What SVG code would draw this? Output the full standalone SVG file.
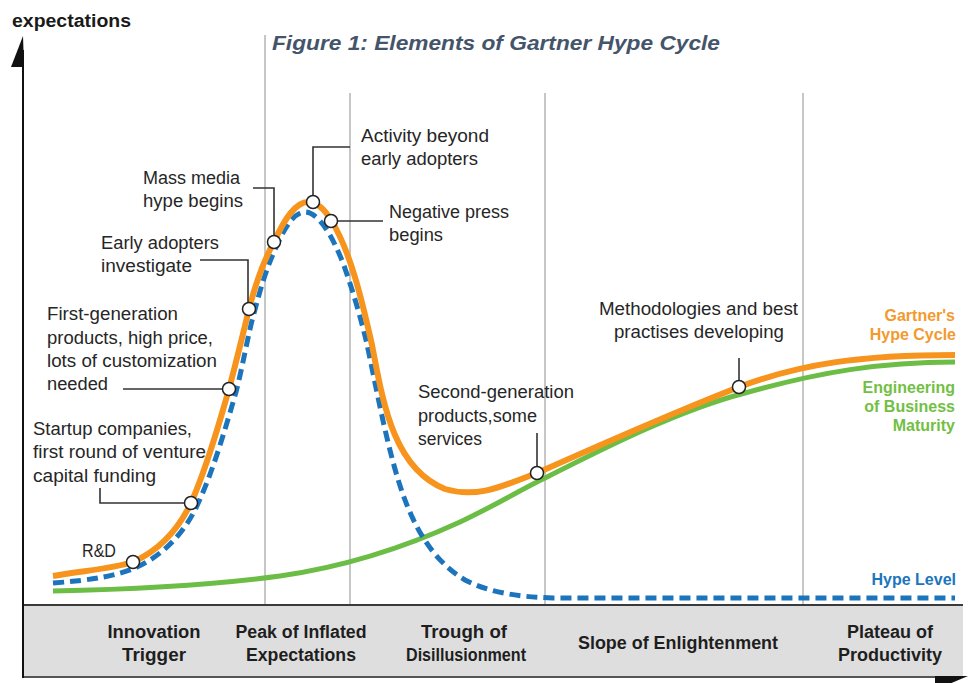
<svg xmlns="http://www.w3.org/2000/svg" width="974" height="683" viewBox="0 0 974 683">
  <style>
    .lbl { font-family: "Liberation Sans", Arial, sans-serif; font-size: 17.5px; fill: #262626; }
    .phase { font-family: "Liberation Sans", Arial, sans-serif; font-size: 17.5px; font-weight: bold; fill: #1e1e1e; }
    .key { font-family: "Liberation Sans", Arial, sans-serif; font-size: 16px; font-weight: bold; }
    .grid { stroke: #b4b4b4; stroke-width: 1.5; fill: none; }
    .lead { stroke: #333; stroke-width: 1.6; fill: none; }
    .dot { fill: #fff; stroke: #222; stroke-width: 1.5; }
  </style>
  <rect width="974" height="683" fill="#ffffff"/>

  <!-- phase dividers -->
  <g id="gridlines">
    <line class="grid" x1="265" y1="35" x2="265" y2="605"/>
    <line class="grid" x1="350" y1="93" x2="350" y2="605"/>
    <line class="grid" x1="545" y1="93" x2="545" y2="605"/>
    <line class="grid" x1="803" y1="93" x2="803" y2="605"/>
  </g>

  <!-- title -->
  <text x="272" y="50" font-family="'Liberation Sans', Arial, sans-serif" font-size="21" font-weight="bold" font-style="italic" fill="#44546a" textLength="448" lengthAdjust="spacingAndGlyphs">Figure 1: Elements of Gartner Hype Cycle</text>

  <!-- phase band along the time axis -->
  <g id="phase-band">
    <rect x="23" y="605" width="940" height="72" fill="#dedede"/>
    <line x1="23" y1="605" x2="963" y2="605" stroke="#3a3a3a" stroke-width="2"/>
    <line x1="23" y1="677" x2="945" y2="677" stroke="#555" stroke-width="2"/>
    <polygon points="935,676 968,676 935,690" fill="#111"/>
    <text class="phase" x="154" y="638" text-anchor="middle" textLength="93" lengthAdjust="spacingAndGlyphs">Innovation</text>
    <text class="phase" x="154" y="661" text-anchor="middle" textLength="64" lengthAdjust="spacingAndGlyphs">Trigger</text>
    <text class="phase" x="301" y="638" text-anchor="middle" textLength="131" lengthAdjust="spacingAndGlyphs">Peak of Inflated</text>
    <text class="phase" x="301" y="661" text-anchor="middle" textLength="110" lengthAdjust="spacingAndGlyphs">Expectations</text>
    <text class="phase" x="464" y="638" text-anchor="middle" textLength="86" lengthAdjust="spacingAndGlyphs">Trough of</text>
    <text class="phase" x="466" y="661" text-anchor="middle" textLength="120" lengthAdjust="spacingAndGlyphs">Disillusionment</text>
    <text class="phase" x="678" y="649" text-anchor="middle" textLength="200" lengthAdjust="spacingAndGlyphs">Slope of Enlightenment</text>
    <text class="phase" x="890" y="638" text-anchor="middle" textLength="86" lengthAdjust="spacingAndGlyphs">Plateau of</text>
    <text class="phase" x="890" y="661" text-anchor="middle" textLength="104" lengthAdjust="spacingAndGlyphs">Productivity</text>
  </g>

  <!-- vertical axis -->
  <g id="y-axis">
    <line x1="23" y1="50" x2="23" y2="678" stroke="#111" stroke-width="2"/>
    <polygon points="23,36 11,67 24,67" fill="#111"/>
    <text x="12" y="27" font-family="'Liberation Sans', Arial, sans-serif" font-size="18" font-weight="bold" fill="#1a1a1a" textLength="119" lengthAdjust="spacingAndGlyphs">expectations</text>
  </g>

  <!-- curves -->
  <g id="curves" fill="none" stroke-linecap="butt">
    <path id="maturity" stroke="#6cbd45" stroke-width="5" d="M53,591 C150,589 220,584 280,576 C350,566 410,545 460,522 C500,503 520,490 545,478 C610,445 680,410 745,393 C820,372 880,362 955,362"/>
    <path id="hype-level" stroke="#1c75bc" stroke-width="5" stroke-dasharray="11 6" d="M53,583 C95,580 118,575 135,568 C162,556 182,535 195,510 C212,475 225,430 236,392 C243,365 248,335 253,317 C260,290 266,270 274,252 C284,228 294,212 305,212 C318,212 332,235 343,263 C352,288 360,315 366,340 C376,385 388,455 405,500 C420,540 440,565 465,580 C490,593 520,597 553,598 L955,598"/>
    <path id="hype-cycle" stroke="#f7941d" stroke-width="6" d="M53,576 C90,570 115,568 133,562 C160,550 178,530 191,503 C208,465 220,420 229,389 C238,355 244,330 249,309 C256,282 264,260 274,242 C285,218 296,202 308,202 C318,202 325,210 331,220 C350,250 362,300 372,345 C383,402 393,468 445,489 C478,499 505,485 537,473 C600,445 680,410 739,387 C800,364 860,355 955,355"/>
  </g>

  <!-- milestone annotations -->
  <g id="rd">
    <text class="lbl" x="82" y="557" textLength="34" lengthAdjust="spacingAndGlyphs">R&amp;D</text>
    <circle class="dot" cx="133" cy="562" r="6.5"/>
  </g>
  <g id="startup">
    <text class="lbl" x="33" y="435" textLength="159" lengthAdjust="spacingAndGlyphs">Startup companies,</text>
    <text class="lbl" x="33" y="458" textLength="173" lengthAdjust="spacingAndGlyphs">first round of venture</text>
    <text class="lbl" x="33" y="482" textLength="123" lengthAdjust="spacingAndGlyphs">capital funding</text>
    <polyline class="lead" points="100,488 100,503 185,503"/>
    <circle class="dot" cx="191" cy="503" r="6.5"/>
  </g>
  <g id="first-gen">
    <text class="lbl" x="47" y="320" textLength="131" lengthAdjust="spacingAndGlyphs">First-generation</text>
    <text class="lbl" x="47" y="344" textLength="166" lengthAdjust="spacingAndGlyphs">products, high price,</text>
    <text class="lbl" x="47" y="367" textLength="170" lengthAdjust="spacingAndGlyphs">lots of customization</text>
    <text class="lbl" x="47" y="390" textLength="61" lengthAdjust="spacingAndGlyphs">needed</text>
    <line class="lead" x1="123" y1="389" x2="223" y2="389"/>
    <circle class="dot" cx="229" cy="389" r="6.5"/>
  </g>
  <g id="early-adopters">
    <text class="lbl" x="101" y="249" textLength="118" lengthAdjust="spacingAndGlyphs">Early adopters</text>
    <text class="lbl" x="101" y="272" textLength="91" lengthAdjust="spacingAndGlyphs">investigate</text>
    <polyline class="lead" points="200,260 248,260 248,303"/>
    <circle class="dot" cx="249" cy="309" r="6.5"/>
  </g>
  <g id="mass-media">
    <text class="lbl" x="143" y="184" textLength="97" lengthAdjust="spacingAndGlyphs">Mass media</text>
    <text class="lbl" x="143" y="207" textLength="100" lengthAdjust="spacingAndGlyphs">hype begins</text>
    <polyline class="lead" points="253,188 274,188 274,236"/>
    <circle class="dot" cx="274" cy="242" r="6.5"/>
  </g>
  <g id="activity">
    <text class="lbl" x="361" y="142" textLength="128" lengthAdjust="spacingAndGlyphs">Activity beyond</text>
    <text class="lbl" x="361" y="165" textLength="117" lengthAdjust="spacingAndGlyphs">early adopters</text>
    <polyline class="lead" points="350,147 313,147 313,196"/>
    <circle class="dot" cx="313" cy="202" r="6.5"/>
  </g>
  <g id="negative-press">
    <text class="lbl" x="389" y="218" textLength="120" lengthAdjust="spacingAndGlyphs">Negative press</text>
    <text class="lbl" x="389" y="241" textLength="54" lengthAdjust="spacingAndGlyphs">begins</text>
    <line class="lead" x1="337" y1="221" x2="383" y2="221"/>
    <circle class="dot" cx="331" cy="221" r="6.5"/>
  </g>
  <g id="second-gen">
    <text class="lbl" x="418" y="398" textLength="156" lengthAdjust="spacingAndGlyphs">Second-generation</text>
    <text class="lbl" x="418" y="422" textLength="119" lengthAdjust="spacingAndGlyphs">products,some</text>
    <text class="lbl" x="418" y="445" textLength="64" lengthAdjust="spacingAndGlyphs">services</text>
    <line class="lead" x1="537" y1="433" x2="537" y2="467"/>
    <circle class="dot" cx="537" cy="473" r="6.5"/>
  </g>
  <g id="methodologies">
    <text class="lbl" x="599" y="315" textLength="199" lengthAdjust="spacingAndGlyphs">Methodologies and best</text>
    <text class="lbl" x="614" y="338" textLength="170" lengthAdjust="spacingAndGlyphs">practises developing</text>
    <line class="lead" x1="739" y1="358" x2="739" y2="381"/>
    <circle class="dot" cx="739" cy="387" r="6.5"/>
  </g>

  <!-- series key -->
  <g id="series-key" class="key" text-anchor="end">
    <text x="955" y="321" fill="#f39a2e">Gartner's</text>
    <text x="956" y="340" fill="#f39a2e">Hype Cycle</text>
    <text x="955" y="393" fill="#72bf44">Engineering</text>
    <text x="955" y="412" fill="#72bf44">of Business</text>
    <text x="955" y="431" fill="#72bf44">Maturity</text>
    <text x="956" y="585" fill="#1c75bc">Hype Level</text>
  </g>
</svg>
